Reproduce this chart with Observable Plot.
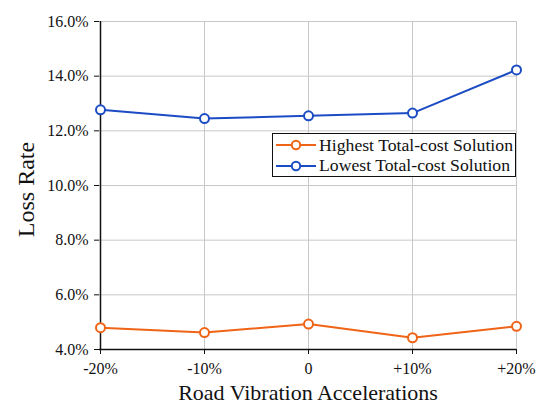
<!DOCTYPE html>
<html>
<head>
<meta charset="utf-8">
<script src="https://cdn.jsdelivr.net/npm/d3@7"></script>
<script src="https://cdn.jsdelivr.net/npm/@observablehq/plot@0.6"></script>
<style>
  html, body { margin: 0; padding: 0; background: #fff; }
  #wrap { position: relative; width: 550px; height: 413px; font-family: "Liberation Serif", "Times New Roman", serif; }
  #legend { position: absolute; left: 272px; top: 133px; width: 244px; height: 44px; border: 1.5px solid #111; background: #fff; box-sizing: border-box; font-size: 17.7px; color: #111; padding-top: 1px; }
  .row { display: flex; align-items: center; height: 20.5px; padding-left: 3px; }
  .row svg { margin-right: 3px; }
</style>
</head>
<body>
<div id="wrap"></div>
<script>
const categories = ["-20%", "-10%", "0", "+10%", "+20%"];
const highest = [4.80, 4.62, 4.93, 4.43, 4.85];
const lowest = [12.77, 12.45, 12.55, 12.65, 14.23];
const seriesNames = ["Highest Total-cost Solution", "Lowest Total-cost Solution"];
const seriesColors = ["#ef6416", "#1c4cc4"];
const yTicks = [4, 6, 8, 10, 12, 14, 16];

const data = [];
categories.forEach((c, i) => {
  data.push({x: c, y: highest[i], s: seriesNames[0]});
  data.push({x: c, y: lowest[i], s: seriesNames[1]});
});

const chart = Plot.plot({
  width: 550,
  height: 413,
  marginLeft: 99,
  marginRight: 34,
  marginTop: 21,
  marginBottom: 64,
  style: {fontFamily: "'Liberation Serif', 'Times New Roman', serif", fontSize: "16px", color: "#111", background: "#fff"},
  x: {type: "point", domain: categories, padding: 0, label: null},
  y: {domain: [4, 16], ticks: yTicks, label: null},
  color: {domain: seriesNames, range: seriesColors},
  marks: [
    Plot.gridX(categories, {stroke: "#c8c8c8", strokeOpacity: 1, strokeWidth: 1}),
    Plot.gridY(yTicks, {stroke: "#c8c8c8", strokeOpacity: 1, strokeWidth: 1}),
    Plot.axisX({ticks: categories, tickSize: 5, tickPadding: 8, fontSize: 16, label: null}),
    Plot.axisY({ticks: yTicks, tickSize: 5, tickPadding: 6, fontSize: 16, tickFormat: d => d.toFixed(1) + "%", label: null}),
    Plot.ruleX([categories[0]], {stroke: "#111", strokeWidth: 1.5}),
    Plot.ruleY([4], {stroke: "#111", strokeWidth: 1.5}),
    Plot.line(data, {x: "x", y: "y", z: "s", stroke: "s", strokeWidth: 2}),
    Plot.dot(data, {x: "x", y: "y", stroke: "s", fill: "white", r: 4.5, strokeWidth: 2}),
    Plot.text(["Road Vibration Accelerations"], {frameAnchor: "bottom", dy: 50, fontSize: 22, fill: "#111"}),
    Plot.text(["Loss Rate"], {frameAnchor: "left", textAnchor: "middle", dx: -73, dy: 4, rotate: -90, fontSize: 24, fill: "#111"})
  ]
});

const wrap = document.getElementById("wrap");
wrap.appendChild(chart);

const legend = document.createElement("div");
legend.id = "legend";
seriesNames.forEach((n, i) => {
  const row = document.createElement("div");
  row.className = "row";
  row.innerHTML = `<svg width="40" height="12"><line x1="0" y1="6" x2="40" y2="6" stroke="${seriesColors[i]}" stroke-width="2"/><circle cx="20" cy="6" r="4.2" fill="white" stroke="${seriesColors[i]}" stroke-width="2"/></svg><span>${n}</span>`;
  legend.appendChild(row);
});
wrap.appendChild(legend);
</script>
</body>
</html>
